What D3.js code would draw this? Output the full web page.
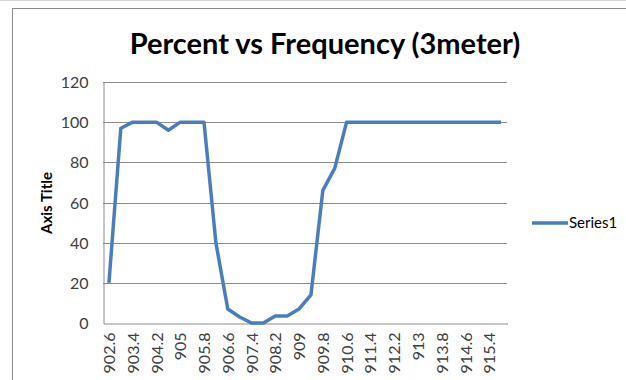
<!DOCTYPE html>
<html>
<head>
<meta charset="utf-8">
<script src="https://cdn.jsdelivr.net/npm/d3@7"></script>
<style>
  html, body { margin: 0; padding: 0; background: #fff; overflow: hidden; }
  svg { display: block; }
  text { font-family: Lato, "Open Sans", "Liberation Sans", sans-serif; }
</style>
</head>
<body>
<svg id="chart" width="626" height="380"></svg>
<script>
// Frequency channels (MHz)
const categories = [
  "902.6","903","903.4","903.8","904.2","904.6","905","905.4","905.8","906.2",
  "906.6","907","907.4","907.8","908.2","908.6","909","909.4","909.8","910.2",
  "910.6","911","911.4","911.8","912.2","912.6","913","913.4","913.8","914.2",
  "914.6","915","915.4","915.8"
];
// Percent received per channel
const series1 = [
  20, 97, 100, 100, 100, 96, 100, 100, 100, 40,
  7, 3, 0, 0, 3.5, 3.5, 7, 14, 66, 77,
  100, 100, 100, 100, 100, 100, 100, 100, 100, 100,
  100, 100, 100, 100
];
const yTicks = [0, 20, 40, 60, 80, 100, 120];
const seriesName = "Series1";
const chartTitle = "Percent vs Frequency (3meter)";
const yTitle = "Axis Title";

const svg = d3.select("#chart");
const W = 626, H = 380;
const plot = { left: 103, right: 507, top: 82, bottom: 323 };
const lineColor = "#4a7ebb";
const gridColor = "#8c8c8c";
const textColor = "#404040";

// spreadsheet cell lines behind the chart object
svg.append("rect").attr("x", 0).attr("y", 0).attr("width", W).attr("height", H).attr("fill", "#fff");
svg.append("line").attr("x1", 0).attr("x2", W).attr("y1", 0.5).attr("y2", 0.5)
  .attr("stroke", "#d4d4d4");
// chart area frame
svg.append("rect").attr("x", 12.5).attr("y", 8.5).attr("width", W).attr("height", H)
  .attr("fill", "#fff").attr("stroke", "#8a8a8a").attr("stroke-width", 1);

const x = d3.scaleBand().domain(categories).range([plot.left, plot.right]).padding(0);
const y = d3.scaleLinear().domain([0, 120]).range([plot.bottom, plot.top]);

// horizontal gridlines
svg.append("g").selectAll("line").data(yTicks.filter(d => d > 0)).join("line")
  .attr("x1", plot.left).attr("x2", plot.right)
  .attr("y1", d => Math.round(y(d)) + 0.5).attr("y2", d => Math.round(y(d)) + 0.5)
  .attr("stroke", gridColor).attr("stroke-width", 1);

// value axis
const yAxis = svg.append("g")
  .attr("transform", `translate(${plot.left + 0.5},0.5)`)
  .call(d3.axisLeft(y).tickValues(yTicks).tickSize(0).tickPadding(15));
yAxis.select(".domain").attr("stroke", gridColor);
yAxis.selectAll("text").attr("font-size", 16).attr("fill", textColor);

// category axis (label every other channel)
const xAxis = svg.append("g")
  .attr("transform", `translate(0.5,${plot.bottom + 0.5})`)
  .call(d3.axisBottom(x).tickValues(categories.filter((d, i) => i % 2 === 0)).tickSize(0));
xAxis.select(".domain").attr("stroke", gridColor);
xAxis.selectAll("text")
  .attr("font-size", 16).attr("fill", textColor)
  .attr("text-anchor", "end")
  .attr("transform", "rotate(-90)")
  .attr("x", -9).attr("y", 0).attr("dy", "0.35em");

// series line
const line = d3.line()
  .x((d, i) => x(categories[i]) + x.bandwidth() / 2)
  .y(d => y(d));
svg.append("path").datum(series1)
  .attr("d", line)
  .attr("fill", "none")
  .attr("stroke", lineColor)
  .attr("stroke-width", 3.5)
  .attr("stroke-linejoin", "round");

// title
svg.append("text")
  .attr("x", 325).attr("y", 54)
  .attr("text-anchor", "middle")
  .attr("font-size", 29).attr("font-weight", "bold")
  .attr("fill", "#000")
  .text(chartTitle);

// value axis title
svg.append("text")
  .attr("transform", `translate(52,203) rotate(-90)`)
  .attr("text-anchor", "middle")
  .attr("font-size", 15).attr("font-weight", "bold")
  .attr("fill", "#000")
  .text(yTitle);

// legend
const lg = svg.append("g").attr("transform", "translate(532,223)");
lg.append("line").attr("x1", 0).attr("x2", 36).attr("y1", 0).attr("y2", 0)
  .attr("stroke", lineColor).attr("stroke-width", 3.5);
lg.append("text").attr("x", 37).attr("y", 0).attr("dy", "0.35em")
  .attr("font-size", 15).attr("fill", "#000")
  .text(seriesName);
</script>
</body>
</html>
